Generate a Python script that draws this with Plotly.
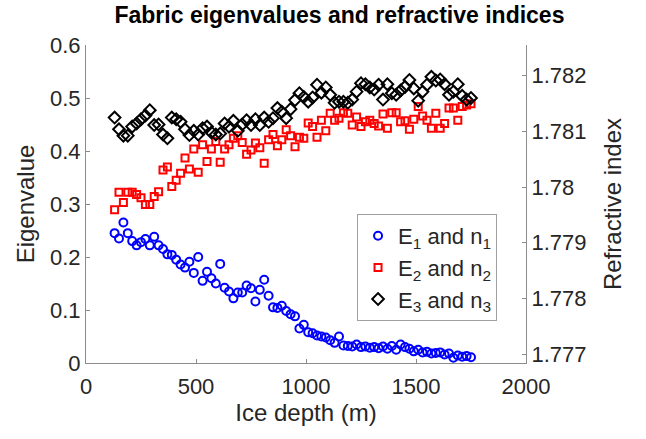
import plotly.graph_objects as go

depth = [130, 150, 170, 190, 210, 230, 250, 270, 290, 310, 330, 350, 370, 390, 410, 430, 450, 470, 490, 510,
         530, 550, 570, 590, 610, 630, 650, 670, 690, 710, 730, 750, 770, 790, 810, 830, 850, 870, 890, 910,
         930, 950, 970, 990, 1010, 1030, 1050, 1070, 1090, 1110, 1130, 1150, 1170, 1190, 1210, 1230, 1250, 1270, 1290, 1310,
         1330, 1350, 1370, 1390, 1410, 1430, 1450, 1470, 1490, 1510, 1530, 1550, 1570, 1590, 1610, 1630, 1650, 1670, 1690, 1710,
         1730, 1750]

E1 = [0.245, 0.235, 0.265, 0.245, 0.230, 0.222, 0.228, 0.234, 0.222, 0.238, 0.222, 0.215, 0.205, 0.204, 0.195, 0.186, 0.180, 0.191, 0.170, 0.200,
      0.155, 0.172, 0.160, 0.150, 0.187, 0.142, 0.135, 0.122, 0.133, 0.133, 0.146, 0.141, 0.116, 0.138, 0.157, 0.127, 0.105, 0.104, 0.108, 0.098,
      0.092, 0.088, 0.065, 0.072, 0.058, 0.056, 0.052, 0.050, 0.048, 0.043, 0.038, 0.050, 0.033, 0.032, 0.031, 0.035, 0.030, 0.031, 0.029, 0.030,
      0.028, 0.031, 0.027, 0.032, 0.025, 0.035, 0.030, 0.027, 0.022, 0.025, 0.020, 0.021, 0.018, 0.019, 0.020, 0.016, 0.018, 0.010, 0.014, 0.012,
      0.013, 0.011]

E2 = [0.289, 0.322, 0.303, 0.322, 0.322, 0.318, 0.312, 0.299, 0.299, 0.314, 0.323, 0.364, 0.370, 0.333, 0.345, 0.358, 0.387, 0.366, 0.404, 0.360,
      0.412, 0.380, 0.404, 0.418, 0.379, 0.404, 0.412, 0.424, 0.429, 0.416, 0.394, 0.402, 0.415, 0.406, 0.377, 0.421, 0.431, 0.410, 0.421, 0.440,
      0.429, 0.408, 0.426, 0.424, 0.453, 0.446, 0.426, 0.458, 0.438, 0.471, 0.458, 0.462, 0.472, 0.471, 0.449, 0.464, 0.446, 0.455, 0.458, 0.452,
      0.447, 0.470, 0.443, 0.472, 0.472, 0.455, 0.457, 0.441, 0.460, 0.484, 0.466, 0.458, 0.443, 0.471, 0.443, 0.452, 0.481, 0.481, 0.458, 0.484,
      0.487, 0.489]

E3 = [0.463, 0.441, 0.429, 0.429, 0.446, 0.452, 0.460, 0.467, 0.477, 0.449, 0.450, 0.431, 0.424, 0.463, 0.460, 0.455, 0.441, 0.430, 0.438, 0.431,
      0.443, 0.446, 0.435, 0.431, 0.433, 0.452, 0.446, 0.457, 0.438, 0.450, 0.458, 0.449, 0.460, 0.449, 0.463, 0.455, 0.462, 0.481, 0.474, 0.462,
      0.479, 0.496, 0.509, 0.502, 0.493, 0.501, 0.525, 0.510, 0.520, 0.506, 0.491, 0.493, 0.493, 0.491, 0.497, 0.512, 0.528, 0.526, 0.520, 0.516,
      0.525, 0.497, 0.526, 0.509, 0.506, 0.514, 0.521, 0.534, 0.518, 0.495, 0.512, 0.525, 0.540, 0.533, 0.535, 0.526, 0.506, 0.512, 0.526, 0.504,
      0.497, 0.500]

x_ticks = [0, 500, 1000, 1500, 2000]
y_ticks = [0, 0.1, 0.2, 0.3, 0.4, 0.5, 0.6]
y_ticktext = ["0", "0.1", "0.2", "0.3", "0.4", "0.5", "0.6"]
n_ticks = [1.777, 1.778, 1.779, 1.780, 1.781, 1.782]
n_ticktext = ["1.777", "1.778", "1.779", "1.78", "1.781", "1.782"]

FONT = "Liberation Sans, Arial, sans-serif"
TXT = "#262626"
AX = "#8c8c8c"

fig = go.Figure()
fig.add_trace(go.Scatter(x=depth, y=E1, mode="markers", name="E<sub>1</sub> and n<sub>1</sub>",
                         marker=dict(symbol="circle-open", size=8, color="#0000ff", line=dict(width=2, color="#0000ff"))))
fig.add_trace(go.Scatter(x=depth, y=E2, mode="markers", name="E<sub>2</sub> and n<sub>2</sub>",
                         marker=dict(symbol="square-open", size=7, color="#ff0000", line=dict(width=2, color="#ff0000"))))
fig.add_trace(go.Scatter(x=depth, y=E3, mode="markers", name="E<sub>3</sub> and n<sub>3</sub>",
                         marker=dict(symbol="diamond-open", size=9, color="#000000", line=dict(width=2, color="#000000"))))
fig.add_trace(go.Scatter(x=[None], y=[None], yaxis="y2", showlegend=False, hoverinfo="skip"))

fig.update_layout(
    width=646, height=439,
    margin=dict(l=86, r=120, t=45, b=76),
    paper_bgcolor="white", plot_bgcolor="white",
    font=dict(family=FONT, color=TXT, size=22),
    title=dict(text="<b>Fabric eigenvalues and refractive indices</b>", x=0.5255, xanchor="center",
               y=0.985, yanchor="top", xref="container", yref="container",
               font=dict(family=FONT, size=23, color="#000000")),
    xaxis=dict(range=[0, 2000], tickvals=x_ticks, showgrid=False, zeroline=False,
               showline=True, linecolor=AX, linewidth=1, ticks="inside", ticklen=4, tickcolor=AX,
               tickfont=dict(size=22, color=TXT), ticklabelstandoff=4,
               title=dict(text="Ice depth (m)", font=dict(size=24, color=TXT), standoff=4)),
    yaxis=dict(range=[0, 0.6], tickvals=y_ticks, ticktext=y_ticktext, showgrid=False, zeroline=False,
               showline=True, linecolor=AX, linewidth=1, ticks="inside", ticklen=4, tickcolor=AX,
               tickfont=dict(size=22, color=TXT),
               title=dict(text="Eigenvalue", font=dict(size=24, color=TXT), standoff=8)),
    yaxis2=dict(overlaying="y", side="right", range=[1.77684, 1.78255], tickvals=n_ticks, ticktext=n_ticktext,
                showgrid=False, zeroline=False, showline=True, linecolor=AX, linewidth=1,
                ticks="inside", ticklen=4, tickcolor=AX, tickfont=dict(size=22, color=TXT),
                title=dict(text="Refractive index", font=dict(size=24, color=TXT), standoff=18)),
    legend=dict(x=0.616, y=0.4686, xanchor="left", yanchor="top", bgcolor="white",
                bordercolor="#a0a0a0", borderwidth=1, font=dict(size=22, color=TXT),
                itemwidth=30, tracegroupgap=0),
    showlegend=True,
)

fig.write_html("out.html")
